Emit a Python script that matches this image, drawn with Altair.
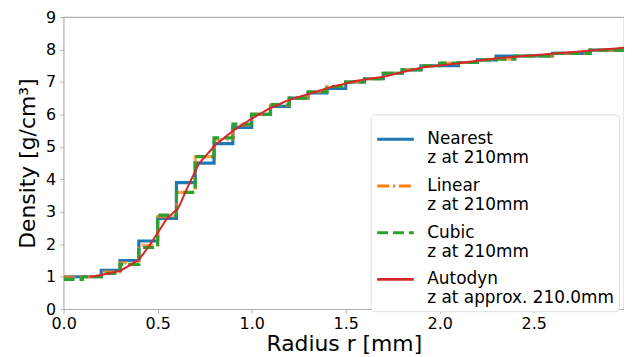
import altair as alt
import pandas as pd

# step edges (mm)
edges = [0.0, 0.1, 0.2, 0.3, 0.4, 0.5, 0.6, 0.7, 0.8, 0.9,
         1.0, 1.1, 1.2, 1.3, 1.4, 1.5, 1.6, 1.7, 1.8, 1.9,
         2.0, 2.1, 2.2, 2.3, 2.4, 2.5, 2.6, 2.7, 2.8, 2.9, 3.0]

nearest = [1.0, 1.0, 1.2, 1.5, 2.1, 2.8, 3.9, 4.5, 5.1, 5.6,
           6.0, 6.25, 6.5, 6.66, 6.8, 7.0, 7.1, 7.27, 7.37, 7.5,
           7.5, 7.6, 7.68, 7.8, 7.8, 7.8, 7.88, 7.88, 7.98, 7.98]

linear = [1.0, 1.0, 1.15, 1.43, 1.97, 2.85, 3.6, 4.7, 5.22, 5.68,
          6.0, 6.28, 6.5, 6.7, 6.86, 7.0, 7.1, 7.27, 7.38, 7.5,
          7.58, 7.6, 7.68, 7.7, 7.8, 7.8, 7.88, 7.88, 7.98, 7.98]

cubic = [0.92, 1.0, 1.1, 1.38, 1.9, 2.9, 3.6, 4.7, 5.28, 5.7,
         6.0, 6.3, 6.5, 6.7, 6.86, 7.0, 7.1, 7.27, 7.38, 7.5,
         7.58, 7.6, 7.68, 7.7, 7.8, 7.8, 7.88, 7.88, 7.98, 7.98]

autodyn_r = [0.14, 0.2, 0.3, 0.4, 0.46, 0.55, 0.61, 0.66, 0.72, 0.81, 0.9,
             1.0, 1.1, 1.2, 1.32, 1.42, 1.56, 1.7, 1.91, 2.09, 2.3, 2.62, 2.99]
autodyn_v = [1.0, 1.05, 1.18, 1.52, 1.99, 2.8, 3.11, 3.77, 4.49, 5.08, 5.49,
             5.87, 6.2, 6.45, 6.66, 6.84, 7.04, 7.16, 7.45, 7.57, 7.73, 7.88, 8.06]

names = ["Nearest|z at 210mm", "Linear|z at 210mm", "Cubic|z at 210mm",
         "Autodyn|z at approx. 210.0mm"]
colors = ["#1f77b4", "#ff7f0e", "#2ca02c", "#d62728"]
dashes = [[1, 0], [12, 4, 2, 4], [11, 5], [1, 0]]
widths = [3.2, 3.2, 3.2, 2.0]
opac = [1.0, 0.7, 1.0, 1.0]

FONT = "DejaVu Sans"

x = alt.X("r:Q", title="Radius r [mm]",
          scale=alt.Scale(domain=[0, 2.98], nice=False, zero=False),
          axis=alt.Axis(values=[0, 0.5, 1.0, 1.5, 2.0, 2.5], format=".1f",
                        labelFlush=False))
y = alt.Y("v:Q", title="Density [g/cm³]",
          scale=alt.Scale(domain=[0, 9], nice=False),
          axis=alt.Axis(values=[0, 1, 2, 3, 4, 5, 6, 7, 8, 9], format="d",
                        labelFlush=False))

color = alt.Color("s:N", scale=alt.Scale(domain=names, range=colors),
                  legend=alt.Legend(
                      title=None, orient="none", legendX=309, legendY=98,
                      labelExpr="split(datum.label, '|')",
                      symbolType="stroke", symbolSize=1360, symbolStrokeWidth=3,
                      labelFontSize=17, labelFont=FONT, labelColor="black",
                      labelLimit=400, rowPadding=-4, labelOffset=12,
                      strokeColor="#dddddd", fillColor="white", cornerRadius=4,
                      padding=5))
dash = alt.StrokeDash("s:N", scale=alt.Scale(domain=names, range=dashes),
                      legend=alt.Legend(title=None))

layers = []
for name, vals, w, o in zip(names[:3], [nearest, linear, cubic], widths, opac):
    full = vals + [vals[-1]]
    df = pd.DataFrame({"r": edges, "v": full, "s": name})
    layers.append(
        alt.Chart(df).mark_line(interpolate="step-after", clip=True,
                                strokeWidth=w, opacity=o)
        .encode(x=x, y=y, color=color, strokeDash=dash))

auto = pd.DataFrame({"r": autodyn_r, "v": autodyn_v, "s": names[3]})
layers.append(
    alt.Chart(auto).mark_line(clip=True, strokeWidth=widths[3], opacity=1)
    .encode(x=x, y=y, color=color, strokeDash=dash))

chart = alt.layer(*layers).properties(
    width=564, height=294, padding={"left": 8, "top": 0, "right": 0, "bottom": 0}
).configure_view(stroke="#b0b0b0", strokeWidth=1.2).configure_axis(
    grid=False, domain=False, tickColor="#b0b0b0", tickSize=4,
    labelFont=FONT, labelFontSize=16, labelColor="black", labelPadding=2,
    titleFont=FONT, titleFontSize=22, titleFontWeight="normal", titleColor="black"
).configure_axisX(titlePadding=3).configure_axisY(titlePadding=6, labelPadding=4
).configure_legend(labelBaseline="middle")

chart.save("out.html", embed_options={"renderer": "svg", "actions": False})
